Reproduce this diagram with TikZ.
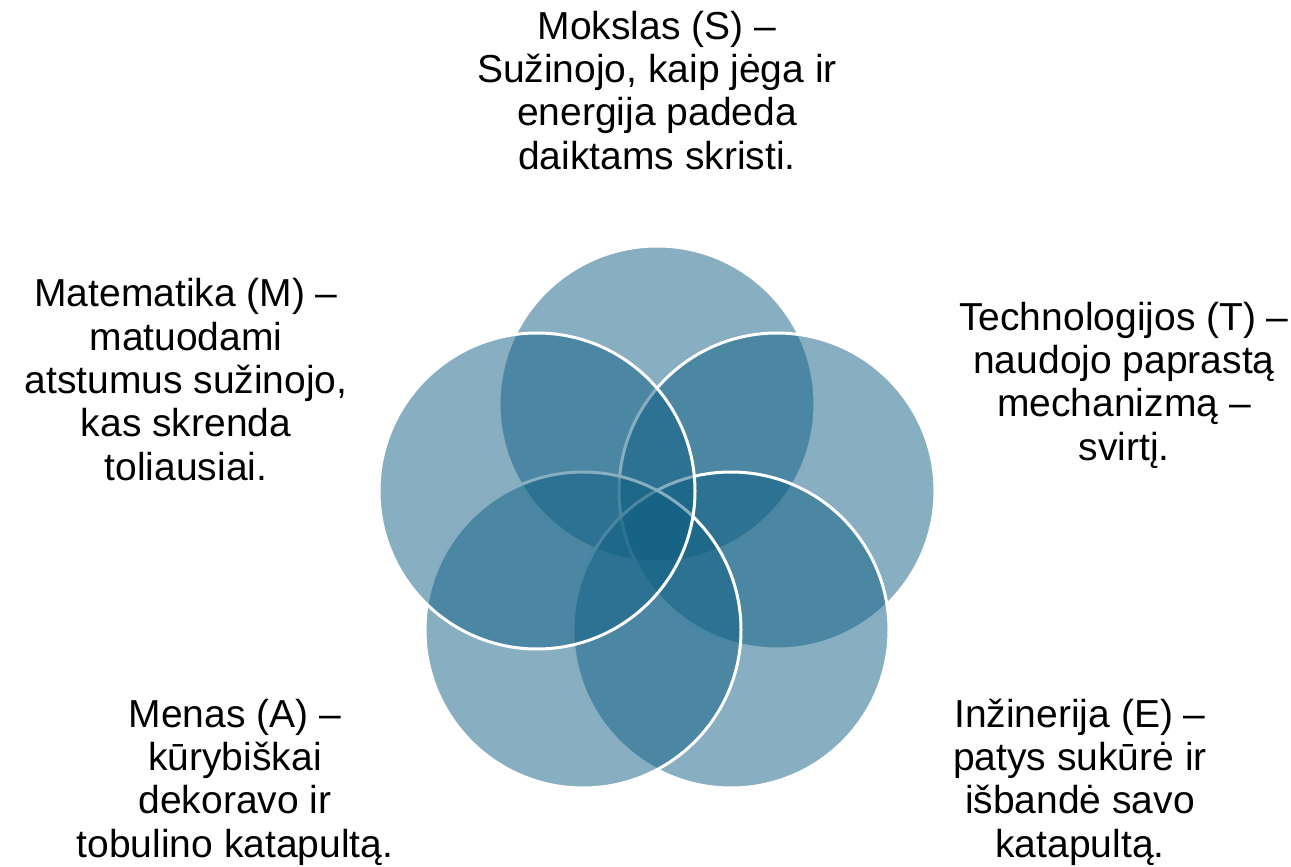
\documentclass[tikz,border=0pt]{standalone}
\usepackage{fontspec}
\setmainfont{Liberation Sans}
\definecolor{petal}{HTML}{105F83}
\begin{document}
\begin{tikzpicture}
    [
    x=1pt,y=-1pt,
    petal/.style={fill=petal,fill opacity=0.5,draw=white,draw opacity=1,line width=3pt},
    caption/.style={align=center,inner sep=0pt,anchor=base,font=\fontsize{39}{43.3}\selectfont}
    ]
    \useasboundingbox (0,0) rectangle (1291,867);
    \coordinate (cS) at (657,404);
    \coordinate (cT) at (777,491);
    \coordinate (cE) at (731,630);
    \coordinate (cA) at (583,630);
    \coordinate (cM) at (537,491);
    \foreach \c in {cS,cT,cE,cA,cM}
      \filldraw [petal] (\c) circle [radius=158pt];
    \node (s) at (657,169) [caption] {Mokslas (S) –\\Sužinojo, kaip jėga ir\\energija padeda\\daiktams skristi.};
    \node (t) at (1124,460) [caption] {Technologijos (T) –\\naudojo paprastą\\mechanizmą –\\svirtį.};
    \node (e) at (1080,857) [caption] {Inžinerija (E) –\\patys sukūrė ir\\išbandė savo\\katapultą.};
    \node (a) at (235,857) [caption] {Menas (A) –\\kūrybiškai\\dekoravo ir\\tobulino katapultą.};
    \node (m) at (186,480) [caption] {Matematika (M) –\\matuodami\\atstumus sužinojo,\\kas skrenda\\toliausiai.};
  \end{tikzpicture}
\end{document}
